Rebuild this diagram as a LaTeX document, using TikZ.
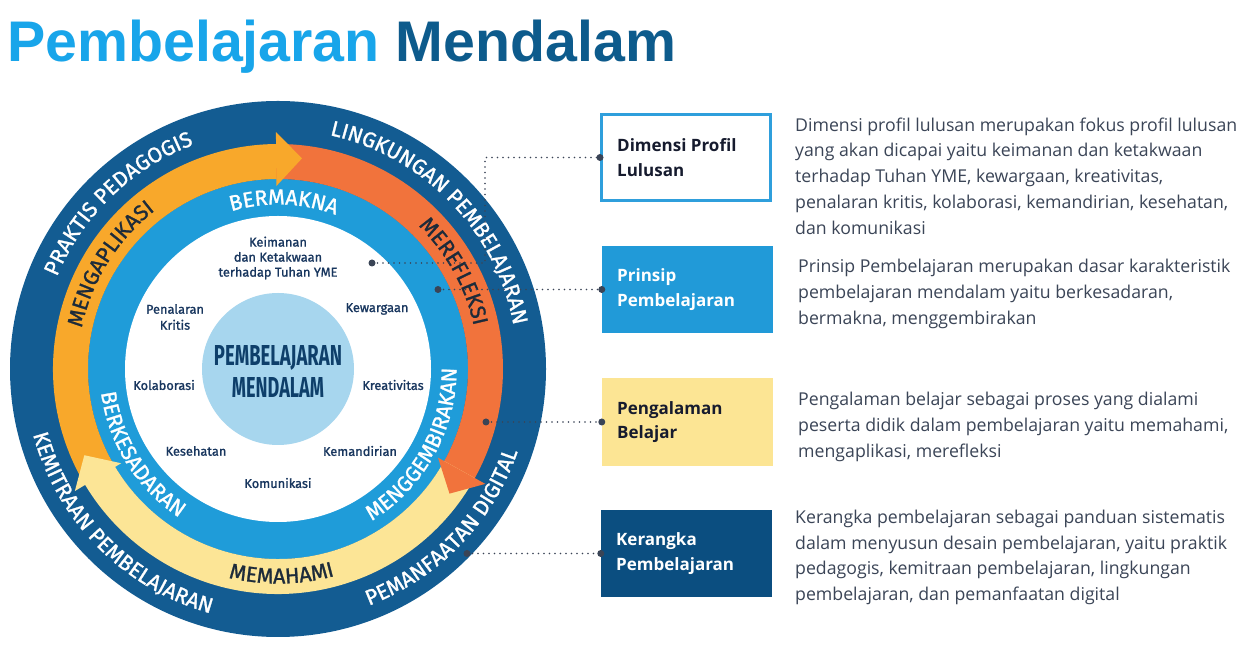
\documentclass[tikz,border=0pt]{standalone}
\usepackage{fontspec}
\usepackage{graphicx}
\usetikzlibrary{decorations.text}
\setmainfont{Open Sans}
\newfontfamily\titlefont{Liberation Sans}
\newfontfamily\fira{Fira Sans}
\newfontfamily\firamid[FakeBold=1.2]{Fira Sans}
\newfontfamily\osans{Open Sans}
\definecolor{ringdark}{HTML}{135C92}
\definecolor{aplik}{HTML}{F8A82B}
\definecolor{reflek}{HTML}{F1733C}
\definecolor{paham}{HTML}{FCE596}
\definecolor{ringblue}{HTML}{1F9CD9}
\definecolor{core}{HTML}{A7D6EE}
\definecolor{coretext}{HTML}{0E3F6A}
\definecolor{itemtext}{HTML}{18365E}
\definecolor{curvedark}{HTML}{1D2B3A}
\definecolor{titlelight}{HTML}{18A5EA}
\definecolor{titledark}{HTML}{0D5B8C}
\definecolor{boxline}{HTML}{2F9FDC}
\definecolor{boxblue}{HTML}{219AD8}
\definecolor{boxyellow}{HTML}{FCE594}
\definecolor{boxdark}{HTML}{0B4E80}
\definecolor{desctext}{HTML}{3B4557}
\definecolor{boxtextdark}{HTML}{161B2E}
\definecolor{connector}{HTML}{3A4456}
\newcommand\arclabel[5]{%
  \path[decorate, decoration={text along path, text align=center,
    text={|\firamid\fontsize{21.5}{21.5}\selectfont\color{#4}|#5}}]
    (#1:#3) arc[start angle=#1, end angle=#2, radius=#3];}
\tikzset{
  item/.style={font=\firamid\fontsize{12.8}{15}\selectfont, text=itemtext, align=center, inner sep=0pt},
  boxtext/.style={font=\osans\bfseries\fontsize{17}{24.5}\selectfont, align=left, inner sep=0pt, anchor=west},
  desc/.style={font=\osans\fontsize{17.7}{25.7}\selectfont, text=desctext, align=left, inner sep=0pt, anchor=west},
  panel/.style={rectangle, inner sep=0pt, minimum width=171pt, minimum height=87pt},
  dotnode/.style={circle, fill=connector, inner sep=0pt, minimum size=7pt},
  dotline/.style={draw=connector, line width=1.6pt, dash pattern=on 0pt off 5.5pt, line cap=round}
}
\begin{document}
\begin{tikzpicture}[x=1pt,y=1pt]
\useasboundingbox (0,0) rectangle (1258,658);
\fill[white] (0,0) rectangle (1258,658);
% title
\node[anchor=base west, inner sep=0pt, font=\titlefont\bfseries\fontsize{57.3}{60}\selectfont] (title) at (7,596)
  {\textcolor{titlelight}{Pembelajaran} \textcolor{titledark}{Mendalam}};
% circle
\begin{scope}[shift={(278,289)}]
  \fill[ringdark] (0,0) circle (268);
  \fill[ringblue] (0,0) circle (190);
  \fill[white] (0,0) circle (153);
  \fill[core] (0,0) circle (76);
  % bodies
  \fill[aplik] (211:225) arc[start angle=211,end angle=90.2,radius=225] -- (90.2:190) arc[start angle=90.2,end angle=211,radius=190] -- cycle;
  \fill[reflek] (90.5:225) arc[start angle=90.5,end angle=-29.3,radius=225] -- (-29.3:190) arc[start angle=-29.3,end angle=90.5,radius=190] -- cycle;
  \fill[paham] (-29:225) arc[start angle=-29,end angle=-149.3,radius=225] -- (-149.3:190) arc[start angle=-149.3,end angle=-29,radius=190] -- cycle;
  % heads
  \fill[aplik] (90.5:183) -- (90.5:237) -- (83.5:212) -- cycle;
  \fill[reflek] (-29:183) -- (-29:237) -- (-36:212) -- cycle;
  \fill[paham] (-149:183) -- (-149:237) -- (-156:212) -- cycle;
  % curved labels
  \arclabel{194}{74}{239.5}{white}{PRAKTIS PEDAGOGIS}
  \arclabel{104}{-16}{239.5}{white}{LINGKUNGAN PEMBELAJARAN}
  \arclabel{208}{88}{200.5}{curvedark}{MENGAPLIKASI}
  \arclabel{89}{-31}{200.5}{curvedark}{MEREFLEKSI}
  \arclabel{148}{28}{164.5}{white}{BERMAKNA}
  \arclabel{164.75}{284.75}{253.5}{white}{KEMITRAAN PEMBELAJARAN}
  \arclabel{256}{376}{253.5}{white}{PEMANFAATAN DIGITAL}
  \arclabel{211}{331}{214.5}{curvedark}{MEMAHAMI}
  \arclabel{152}{272}{178.5}{white}{BERKESADARAN}
  \arclabel{271}{391}{178.5}{white}{MENGGEMBIRAKAN}
\end{scope}
% inner items
\node[item] (i1) at (278,400) {Keimanan\\dan Ketakwaan\\terhadap Tuhan YME};
\node[item, font=\firamid\fontsize{12.8}{16}\selectfont] (i2) at (175,341) {Penalaran\\Kritis};
\node[item] (i3) at (377,349) {Kewargaan};
\node[item] (i4) at (164,273) {Kolaborasi};
\node[item] (i5) at (393,273) {Kreativitas};
\node[item] (i6) at (196,207) {Kesehatan};
\node[item] (i7) at (360,207) {Kemandirian};
\node[item] (i8) at (278,175) {Komunikasi};
% core text
\node[inner sep=0pt, text=coretext] (c1) at (278,300) {\resizebox{128pt}{20pt}{\fira\bfseries PEMBELAJARAN}};
\node[inner sep=0pt, text=coretext] (c2) at (278,270) {\resizebox{92pt}{20pt}{\fira\bfseries MENDALAM}};
% panels
\node[panel, draw=boxline, line width=3pt, fill=white, minimum width=169pt, minimum height=86pt] (b1) at (686,500.5) {};
\node[panel, fill=boxblue] (b2) at (687.5,368.5) {};
\node[panel, fill=boxyellow, minimum height=88pt] (b3) at (687.5,236) {};
\node[panel, fill=boxdark] (b4) at (686.5,104.5) {};
\node[boxtext, text=boxtextdark] (t1) at (617,500.5) {Dimensi Profil\\Lulusan};
\node[boxtext, text=white] (t2) at (617,368.5) {Prinsip\\Pembelajaran};
\node[boxtext, text=boxtextdark] (t3) at (617,236) {Pengalaman\\Belajar};
\node[boxtext, text=white] (t4) at (616,104.5) {Kerangka\\Pembelajaran};
% descriptions
\node[desc] (d1) at (795,482) {Dimensi profil lulusan merupakan fokus profil lulusan\\yang akan dicapai yaitu keimanan dan ketakwaan\\terhadap Tuhan YME, kewargaan, kreativitas,\\penalaran kritis, kolaborasi, kemandirian, kesehatan,\\dan komunikasi};
\node[desc] (d2) at (798,364) {Prinsip Pembelajaran merupakan dasar karakteristik\\pembelajaran mendalam yaitu berkesadaran,\\bermakna, menggembirakan};
\node[desc] (d3) at (798,231) {Pengalaman belajar sebagai proses yang dialami\\peserta didik dalam pembelajaran yaitu memahami,\\mengaplikasi, merefleksi};
\node[desc] (d4) at (795,100.5) {Kerangka pembelajaran sebagai panduan sistematis\\dalam menyusun desain pembelajaran, yaitu praktik\\pedagogis, kemitraan pembelajaran, lingkungan\\pembelajaran, dan pemanfaatan digital};
% connectors
\node[dotnode] (k1) at (372,395) {};
\node[dotnode] (k2) at (438,368.5) {};
\node[dotnode] (k3) at (486,236) {};
\node[dotnode] (k4) at (467,104.5) {};
\coordinate (m1) at (485,395);
\coordinate (m2) at (485,500.5);
\draw[dotline] (k1.center) -- (m1) -- (m2) -- (b1.west);
\draw[dotline] (k2.center) -- (b2.west);
\draw[dotline] (k3.center) -- (b3.west);
\draw[dotline] (k4.center) -- (b4.west);
\node[dotnode] (e1) at (b1.west) {};
\node[dotnode] (e2) at (b2.west) {};
\node[dotnode] (e3) at (b3.west) {};
\node[dotnode] (e4) at (b4.west) {};
\end{tikzpicture}
\end{document}
